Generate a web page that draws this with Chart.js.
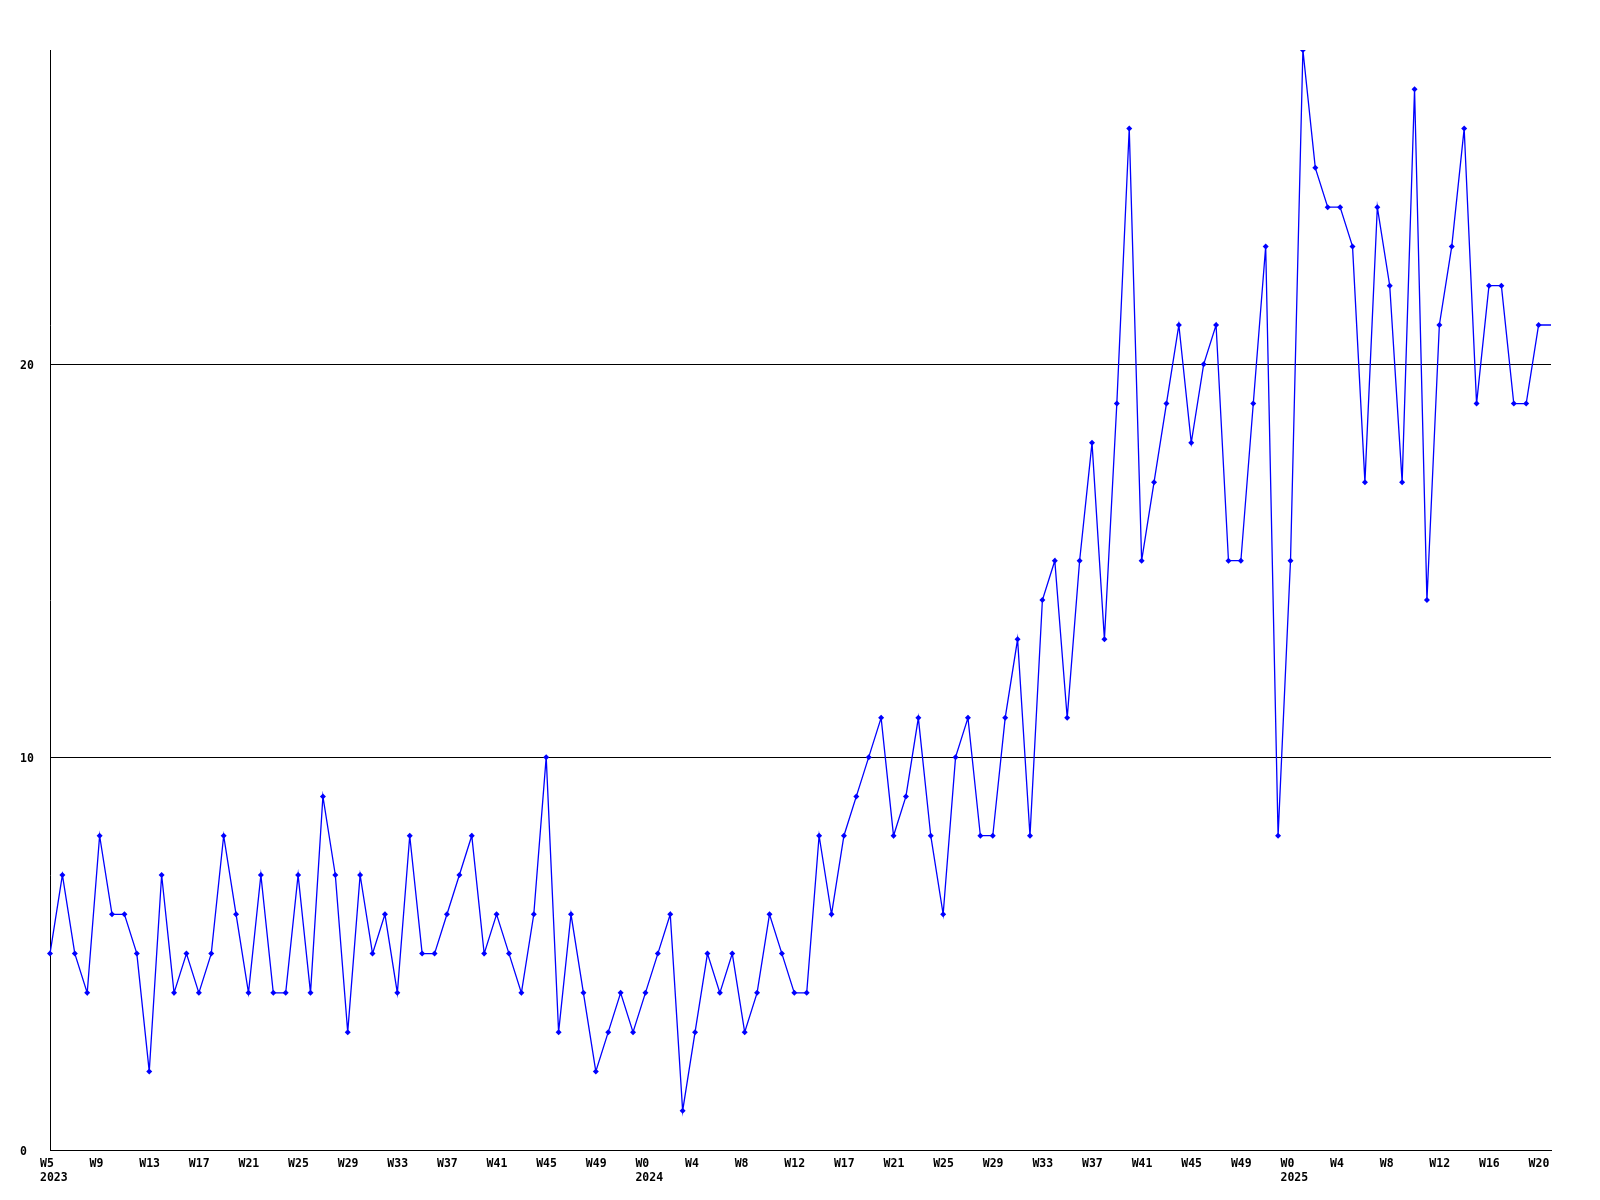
<!DOCTYPE html>
<html>
<head>
<meta charset="utf-8">
<script src="https://cdn.jsdelivr.net/npm/chart.js@4/dist/chart.umd.min.js"></script>
<style>
  html, body { margin: 0; padding: 0; background: #ffffff; }
  #wrap { width: 1600px; height: 1200px; }
</style>
</head>
<body>
<div id="wrap"><canvas id="c" width="1600" height="1200"></canvas></div>
<script>
// Week categories (year-week)
const weeks = [
  '2023-W5','2023-W6','2023-W7','2023-W8','2023-W9','2023-W10','2023-W11','2023-W12',
  '2023-W13','2023-W14','2023-W15','2023-W16','2023-W17','2023-W18','2023-W19','2023-W20',
  '2023-W21','2023-W22','2023-W23','2023-W24','2023-W25','2023-W26','2023-W27','2023-W28',
  '2023-W29','2023-W30','2023-W31','2023-W32','2023-W33','2023-W34','2023-W35','2023-W36',
  '2023-W37','2023-W38','2023-W39','2023-W40','2023-W41','2023-W42','2023-W43','2023-W44',
  '2023-W45','2023-W46','2023-W47','2023-W48','2023-W49','2023-W50','2023-W51','2023-W52',
  '2024-W0','2024-W1','2024-W2','2024-W3','2024-W4','2024-W5','2024-W6','2024-W7',
  '2024-W8','2024-W9','2024-W10','2024-W11','2024-W12','2024-W13','2024-W14','2024-W15',
  '2024-W17','2024-W18','2024-W19','2024-W20','2024-W21','2024-W22','2024-W23','2024-W24',
  '2024-W25','2024-W26','2024-W27','2024-W28','2024-W29','2024-W30','2024-W31','2024-W32',
  '2024-W33','2024-W34','2024-W35','2024-W36','2024-W37','2024-W38','2024-W39','2024-W40',
  '2024-W41','2024-W42','2024-W43','2024-W44','2024-W45','2024-W46','2024-W47','2024-W48',
  '2024-W49','2024-W50','2024-W51','2024-W52',
  '2025-W0','2025-W1','2025-W2','2025-W3','2025-W4','2025-W5','2025-W6','2025-W7',
  '2025-W8','2025-W9','2025-W10','2025-W11','2025-W12','2025-W13','2025-W14','2025-W15',
  '2025-W16','2025-W17','2025-W18','2025-W19','2025-W20','2025-W21'
];

// Weekly counts
const counts = [
  5,7,5,4,8,6,6,5, 2,7,4,5,4,5,8,6, 4,7,4,4,7,4,9,7,
  3,7,5,6,4,8,5,5, 6,7,8,5,6,5,4,6, 10,3,6,4,2,3,4,3,
  4,5,6,1,3,5,4,5, 3,4,6,5,4,4,8,6, 8,9,10,11,8,9,11,8,
  6,10,11,8,8,11,13,8, 14,15,11,15,18,13,19,26, 15,17,19,21,18,20,21,15,
  15,19,23,8,
  15,28,25,24,24,23,17,24, 22,17,27,14,21,23,26,19, 22,22,19,19,21,21
];

// Y tick values shown
const yTicks = [0, 10, 20];
const yMax = 28;
const labelEvery = 4;

const FONT = { family: '"DejaVu Sans Mono", monospace', size: 11.5, weight: 'bold', lineHeight: 1.2 };

new Chart(document.getElementById('c'), {
  type: 'line',
  data: {
    labels: weeks,
    datasets: [{
      data: counts,
      borderColor: '#0000ff',
      backgroundColor: '#0000ff',
      borderWidth: 1.3,
      tension: 0,
      fill: false,
      pointStyle: 'rectRot',
      pointRadius: (ctx) => ctx.dataIndex === counts.length - 1 ? 0 : 3,
      pointBorderWidth: 0,
      pointBackgroundColor: '#0000ff',
      pointHoverRadius: 0
    }]
  },
  options: {
    responsive: false,
    animation: false,
    events: [],
    layout: { padding: { left: 20, right: 49, top: 50, bottom: 0 } },
    plugins: { legend: { display: false }, title: { display: false }, tooltip: { enabled: false } },
    scales: {
      x: {
        type: 'category',
        offset: false,
        grid: { display: false, drawTicks: false },
        border: { display: true, color: '#000000', width: 1 },
        afterFit: (s) => { s.height = 50; },
        ticks: {
          autoSkip: false,
          maxRotation: 0,
          minRotation: 0,
          align: 'start',
          labelOffset: -10,
          padding: 7,
          color: '#000000',
          font: FONT,
          callback: function (value, index) {
            if (index % labelEvery !== 0) return '';
            const lab = this.getLabelForValue(value);
            const [yr, wk] = lab.split('-');
            if (index === 0 || wk === 'W0') return [wk, yr];
            return wk;
          }
        }
      },
      y: {
        type: 'linear',
        min: 0,
        max: yMax,
        afterFit: (s) => { s.width = 30; },
        afterBuildTicks: (s) => { s.ticks = yTicks.map(v => ({ value: v })); },
        grid: { display: true, color: '#000000', lineWidth: 1, drawTicks: false },
        border: { display: true, color: '#000000', width: 1 },
        ticks: {
          crossAlign: 'far',
          padding: 0,
          labelOffset: 2,
          color: '#000000',
          font: FONT,
          callback: (v) => String(v)
        }
      }
    }
  }
});
</script>
</body>
</html>
